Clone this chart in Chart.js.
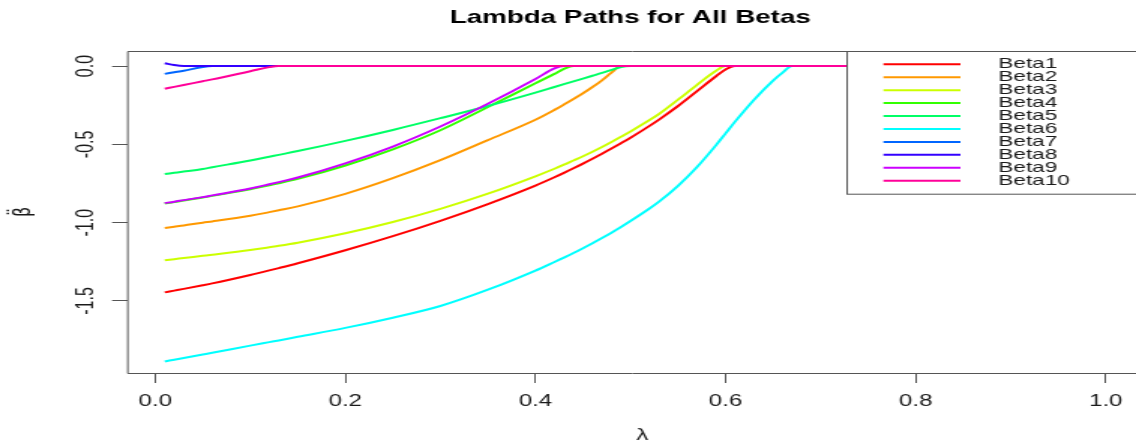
<!DOCTYPE html>
<html>
<head>
<meta charset="utf-8">
<title>Lambda Paths for All Betas</title>
<script src="https://cdn.jsdelivr.net/npm/chart.js@4.4.1/dist/chart.umd.min.js"></script>
<style>
  html, body { margin: 0; padding: 0; background: #fff; overflow: hidden; }
  /* the plot is laid out on a narrow canvas and widened horizontally */
  #frame { width: 757px; height: 443px; transform: scaleX(1.50066); transform-origin: 0 0; }
</style>
</head>
<body>
<div id="frame"><canvas id="paths"></canvas></div>
<script>
// lambda grid
const lambdas = [0.01,0.02,0.03,0.05,0.06,0.10,0.12,0.13,0.15,0.20,0.25,0.30,0.35,0.40,0.42,0.43,0.44,0.45,0.46,0.47,0.48,0.49,0.50,0.52,0.53,0.55,0.57,0.59,0.60,0.61,0.63,0.65,0.66,0.67,0.70,1.00];

// coefficient paths, one value per lambda
const beta1  = [-1.445,-1.434,-1.423,-1.400,-1.388,-1.334,-1.305,-1.290,-1.259,-1.176,-1.086,-0.988,-0.881,-0.763,-0.710,-0.682,-0.653,-0.623,-0.592,-0.560,-0.527,-0.493,-0.458,-0.382,-0.342,-0.255,-0.16,-0.065,-0.022,0,0,0,0,0,0,0];
const beta2  = [-1.034,-1.026,-1.018,-1.0,-0.992,-0.956,-0.933,-0.921,-0.896,-0.816,-0.716,-0.601,-0.473,-0.343,-0.280,-0.246,-0.211,-0.174,-0.134,-0.091,-0.042,0,0,0,0,0,0,0,0,0,0,0,0,0,0,0];
const beta3  = [-1.24,-1.233,-1.226,-1.212,-1.205,-1.175,-1.157,-1.148,-1.128,-1.068,-0.996,-0.912,-0.815,-0.704,-0.656,-0.63,-0.603,-0.576,-0.547,-0.517,-0.485,-0.452,-0.418,-0.345,-0.306,-0.215,-0.12,-0.03,0,0,0,0,0,0,0,0];
const beta4  = [-0.878,-0.869,-0.859,-0.84,-0.829,-0.787,-0.761,-0.748,-0.72,-0.635,-0.532,-0.41,-0.262,-0.11,-0.05,-0.018,0,0,0,0,0,0,0,0,0,0,0,0,0,0,0,0,0,0,0,0];
const beta5  = [-0.69,-0.682,-0.674,-0.657,-0.646,-0.603,-0.579,-0.567,-0.543,-0.478,-0.408,-0.333,-0.255,-0.17,-0.134,-0.116,-0.098,-0.08,-0.062,-0.044,-0.025,-0.006,0,0,0,0,0,0,0,0,0,0,0,0,0,0];
const beta6  = [-1.886,-1.875,-1.864,-1.842,-1.831,-1.785,-1.763,-1.752,-1.729,-1.672,-1.607,-1.532,-1.428,-1.306,-1.251,-1.223,-1.194,-1.163,-1.131,-1.098,-1.064,-1.028,-0.99,-0.91,-0.866,-0.765,-0.645,-0.505,-0.43,-0.355,-0.215,-0.093,-0.042,0,0,0];
const beta7  = [-0.05,-0.04,-0.03,-0.006,0,0,0,0,0,0,0,0,0,0,0,0,0,0,0,0,0,0,0,0,0,0,0,0,0,0,0,0,0,0,0,0];
const beta8  = [0.018,0.006,0,0,0,0,0,0,0,0,0,0,0,0,0,0,0,0,0,0,0,0,0,0,0,0,0,0,0,0,0,0,0,0,0,0];
const beta9  = [-0.875,-0.866,-0.856,-0.837,-0.826,-0.782,-0.755,-0.741,-0.712,-0.622,-0.514,-0.386,-0.241,-0.083,-0.015,0,0,0,0,0,0,0,0,0,0,0,0,0,0,0,0,0,0,0,0,0];
const beta10 = [-0.145,-0.133,-0.121,-0.097,-0.085,-0.033,-0.007,0,0,0,0,0,0,0,0,0,0,0,0,0,0,0,0,0,0,0,0,0,0,0,0,0,0,0,0,0];

const seriesNames = ['Beta1','Beta2','Beta3','Beta4','Beta5','Beta6','Beta7','Beta8','Beta9','Beta10'];
const seriesValues = [beta1, beta2, beta3, beta4, beta5, beta6, beta7, beta8, beta9, beta10];
// rainbow(10)
const seriesColors = ['#FF0000','#FF9900','#CCFF00','#33FF00','#00FF66','#00FFFF','#0066FF','#3300FF','#CC00FF','#FF0099'];

const xTicks = [0, 0.2, 0.4, 0.6, 0.8, 1.0];
const yTicks = [0, -0.5, -1.0, -1.5];
const xRange = [-0.0296, 1.0256];
const yRange = [-1.96, 0.096];

const titleText = 'Lambda Paths for All Betas';
const xTitle = '\u03BB';
const yTitle = '\u03B2\u0308';

const FONT = '"Liberation Sans", Arial, Helvetica, sans-serif';
const INK = '#1a1a1a';
const AXIS = '#555';

const datasets = seriesNames.map((name, k) => ({
  label: name,
  data: lambdas.map((x, i) => ({ x, y: seriesValues[k][i] })),
  borderColor: seriesColors[k],
  backgroundColor: seriesColors[k],
  borderWidth: 2,
  pointRadius: 0,
  fill: false,
  cubicInterpolationMode: 'monotone',
  order: seriesNames.length - k   // later series are painted on top
}));

// box, legend and the hand-placed texts
const decorations = {
  id: 'decorations',
  afterDatasetsDraw(chart) {
    const { ctx, chartArea: a } = chart;
    const y = chart.scales.y;
    ctx.save();
    ctx.strokeStyle = AXIS;
    ctx.lineWidth = 1;
    ctx.beginPath();
    ctx.moveTo(chart.width + 5, a.top + 0.5);
    ctx.lineTo(a.left + 0.5, a.top + 0.5);
    ctx.lineTo(a.left + 0.5, a.bottom + 0.5);
    ctx.lineTo(chart.width + 5, a.bottom + 0.5);
    ctx.stroke();

    // legend
    const lx = 564, ly = a.top + 0.5, lh = 142.7;
    ctx.fillStyle = '#fff';
    ctx.fillRect(lx, ly, chart.width - lx + 10, lh);
    ctx.strokeStyle = AXIS;
    ctx.strokeRect(lx + 0.5, ly, chart.width - lx + 10, lh);
    ctx.font = '15px ' + FONT;
    ctx.textAlign = 'left';
    ctx.textBaseline = 'middle';
    chart.data.datasets.forEach((ds, i) => {
      const ry = 64.3 + i * 12.93;
      ctx.strokeStyle = ds.borderColor;
      ctx.lineWidth = 2;
      ctx.beginPath();
      ctx.moveTo(588.7, ry);
      ctx.lineTo(640, ry);
      ctx.stroke();
      ctx.fillStyle = INK;
      ctx.fillText(ds.label, 665.3, ry);
    });

    // rotated y tick labels
    ctx.font = '16px ' + FONT;
    ctx.fillStyle = INK;
    ctx.textAlign = 'center';
    ctx.textBaseline = 'alphabetic';
    yTicks.forEach(v => {
      ctx.save();
      ctx.translate(62, y.getPixelForValue(v));
      ctx.rotate(-Math.PI / 2);
      ctx.fillText(v.toFixed(1), 0, 0);
      ctx.restore();
    });

    // axis titles
    ctx.save();
    ctx.font = '16px "DejaVu Sans", sans-serif';
    ctx.translate(20, (a.top + a.bottom) / 2);
    ctx.rotate(-Math.PI / 2);
    ctx.fillText(yTitle, 0, 0);
    ctx.restore();
    ctx.fillText(xTitle, 428, 440);

    // main title
    ctx.font = 'bold 18.5px ' + FONT;
    ctx.fillStyle = '#000';
    ctx.fillText(titleText, 420, 22.7);
    ctx.restore();
  }
};

new Chart(document.getElementById('paths'), {
  type: 'line',
  data: { datasets },
  options: {
    responsive: true,
    maintainAspectRatio: false,
    animation: false,
    layout: { padding: { top: 51, right: 0, left: 0, bottom: 0 } },
    plugins: { legend: { display: false }, title: { display: false }, tooltip: { enabled: false } },
    scales: {
      x: {
        type: 'linear',
        min: xRange[0],
        max: xRange[1],
        afterBuildTicks: s => { s.ticks = xTicks.map(v => ({ value: v })); },
        afterFit: s => { s.height = 70; },
        grid: { drawOnChartArea: false, drawTicks: true, tickLength: 10, color: AXIS },
        border: { display: false },
        ticks: {
          padding: 9,
          color: INK,
          font: { family: FONT, size: 16 },
          maxRotation: 0,
          autoSkip: false,
          callback: v => Number(v).toFixed(1)
        }
      },
      y: {
        type: 'linear',
        min: yRange[0],
        max: yRange[1],
        afterBuildTicks: s => { s.ticks = yTicks.map(v => ({ value: v })); },
        afterFit: s => { s.width = 84.67; },
        grid: { drawOnChartArea: false, drawTicks: true, tickLength: 10, color: AXIS },
        border: { display: false },
        ticks: { display: false }
      }
    }
  },
  plugins: [decorations]
});
</script>
</body>
</html>
